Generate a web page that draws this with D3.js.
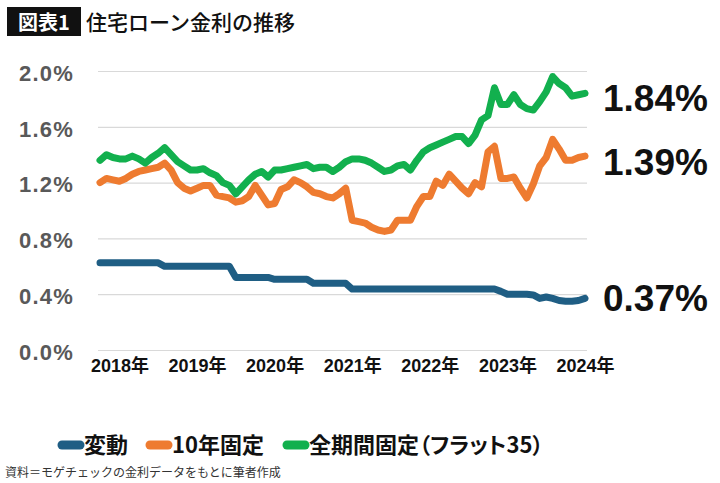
<!DOCTYPE html>
<html lang="ja">
<head>
<meta charset="UTF-8">
<title>住宅ローン金利の推移</title>
<script src="https://d3js.org/d3.v7.min.js"></script>
<style>
  body { margin: 0; background: #fff; }
  svg { display: block; }
  .cjk { font-family: "Noto Sans CJK JP", "Noto Sans", sans-serif; }
  .leg { font-feature-settings: "palt"; }
</style>
</head>
<body>
<script>
// monthly, 2018 to 2024
const hendou = [
  0.625,0.625,0.625,0.625,0.625,0.625,0.625,0.625,0.625,0.625,
  0.600,0.600,0.600,0.600,0.600,0.600,0.600,0.600,0.600,0.600,0.600,
  0.520,0.520,0.520,0.520,0.520,0.520,
  0.507,0.507,0.507,0.507,0.507,0.507,
  0.478,0.478,0.478,0.478,0.478,0.478,
  0.437,0.437,0.437,0.437,0.437,0.437,0.437,0.437,0.437,0.437,0.437,
  0.437,0.437,0.437,0.437,0.437,0.437,0.437,0.437,0.437,0.437,0.437,0.437,
  0.42,0.40,0.40,0.40,0.40,0.395,0.37,0.38,0.37,0.355,0.35,0.35,0.355,0.37
];
const kotei10 = [
  1.20,1.23,1.22,1.21,1.23,1.26,1.28,1.29,1.30,1.31,
  1.34,1.29,1.20,1.16,1.14,1.16,1.18,1.18,1.11,1.10,
  1.09,1.06,1.07,1.10,1.18,1.11,1.04,1.05,1.15,1.17,
  1.22,1.20,1.17,1.13,1.12,1.10,1.09,1.12,1.16,0.93,
  0.92,0.91,0.88,0.86,0.85,0.86,0.93,0.93,0.93,1.03,
  1.10,1.10,1.21,1.18,1.26,1.21,1.16,1.12,1.20,1.17,
  1.42,1.46,1.23,1.23,1.24,1.16,1.09,1.19,1.32,1.38,
  1.51,1.44,1.36,1.36,1.38,1.39
];
const flat35 = [
  1.36,1.40,1.38,1.37,1.37,1.39,1.37,1.34,1.38,1.41,
  1.45,1.40,1.35,1.32,1.29,1.29,1.30,1.27,1.25,1.20,
  1.18,1.12,1.17,1.22,1.26,1.28,1.24,1.29,1.29,1.30,
  1.31,1.32,1.33,1.30,1.31,1.31,1.28,1.31,1.35,1.37,
  1.37,1.36,1.34,1.31,1.28,1.29,1.32,1.33,1.29,1.36,
  1.42,1.45,1.47,1.49,1.51,1.53,1.53,1.48,1.54,1.65,
  1.68,1.88,1.76,1.76,1.83,1.76,1.73,1.72,1.78,1.85,
  1.96,1.91,1.88,1.82,1.83,1.84
];
const yearLabels = ["2018年","2019年","2020年","2021年","2022年","2023年","2024年"];
const yearTickIndex = [3,15,27,39,51,63,75];
const yTicks = [0,0.4,0.8,1.2,1.6,2.0];
const seriesNames = ["変動","10年固定","全期間固定（フラット35）"];
const endLabels = ["0.37%","1.39%","1.84%"];
const colors = ["#1f5e84","#ee7b30","#12b04e"];

const W = 720, H = 483;
const svg = d3.select("body").append("svg").attr("width", W).attr("height", H);

// title
svg.append("rect").attr("x", 7).attr("y", 7).attr("width", 74).attr("height", 29).attr("fill", "#111");
svg.append("text").attr("class", "cjk").attr("x", 44).attr("y", 30).attr("text-anchor", "middle")
  .attr("fill", "#fff").attr("font-size", 20).attr("font-weight", 700).text("図表1");
svg.append("text").attr("class", "cjk").attr("x", 86).attr("y", 30)
  .attr("fill", "#111").attr("font-size", 21).attr("font-weight", 500).text("住宅ローン金利の推移");

const x = d3.scaleLinear().domain([0, flat35.length - 1]).range([100, 585]);
const y = d3.scaleLinear().domain([0, 2]).range([350, 71]);

// y grid + labels
const yAxis = svg.append("g").attr("transform", "translate(98,0)")
  .call(d3.axisLeft(y).tickValues(yTicks).tickSize(-489).tickPadding(24)
    .tickFormat(d => d.toFixed(1) + "%"));
yAxis.select(".domain").remove();
yAxis.selectAll(".tick line").attr("stroke", "#d9d9d9").attr("stroke-width", 1.2);
yAxis.selectAll(".tick text").attr("fill", "#595959")
  .attr("font-family", "'Liberation Sans', Arial, sans-serif")
  .attr("font-size", 22).attr("font-weight", 700).attr("letter-spacing", 1.2).attr("dy", "0.42em");

// x labels
const xAxis = svg.append("g").attr("transform", "translate(0,350)")
  .call(d3.axisBottom(x).tickValues(yearTickIndex).tickSize(0)
    .tickFormat((d, i) => yearLabels[i]));
xAxis.select(".domain").remove();
xAxis.selectAll(".tick text").attr("fill", "#111").attr("y", 22).attr("dy", 0)
  .attr("font-family", "'Liberation Sans', 'Noto Sans CJK JP', sans-serif")
  .attr("font-size", 18).attr("font-weight", 700);

// lines
const line = d3.line().x((d, i) => x(i)).y(d => y(d)).curve(d3.curveLinear);
[hendou, kotei10, flat35].forEach((s, k) => {
  svg.append("path").datum(s).attr("d", line).attr("fill", "none")
    .attr("stroke", colors[k]).attr("stroke-width", 7)
    .attr("stroke-linejoin", "round").attr("stroke-linecap", "round");
});

// end labels
const nudge = [13, 19, 18];
[hendou, kotei10, flat35].forEach((s, k) => {
  svg.append("text").attr("x", 603).attr("y", y(s[s.length - 1]) + nudge[k])
    .attr("font-family", "'Liberation Sans', Arial, sans-serif")
    .attr("font-size", 37).attr("font-weight", 700).attr("fill", "#111")
    .text(endLabels[k]);
});

// legend
const legX = [58, 146, 283];
seriesNames.forEach((name, k) => {
  svg.append("line").attr("x1", legX[k] + 4).attr("x2", legX[k] + 22)
    .attr("y1", 445).attr("y2", 445).attr("stroke", colors[k])
    .attr("stroke-width", 9).attr("stroke-linecap", "round");
  svg.append("text").attr("class", "cjk leg").attr("x", legX[k] + 26).attr("y", 453)
    .attr("font-size", 22).attr("font-weight", 700).attr("fill", "#111").text(name);
});

// source
svg.append("text").attr("class", "cjk").attr("x", 5).attr("y", 477)
  .attr("font-size", 12).attr("fill", "#333").text("資料＝モゲチェックの金利データをもとに筆者作成");
</script>
</body>
</html>
